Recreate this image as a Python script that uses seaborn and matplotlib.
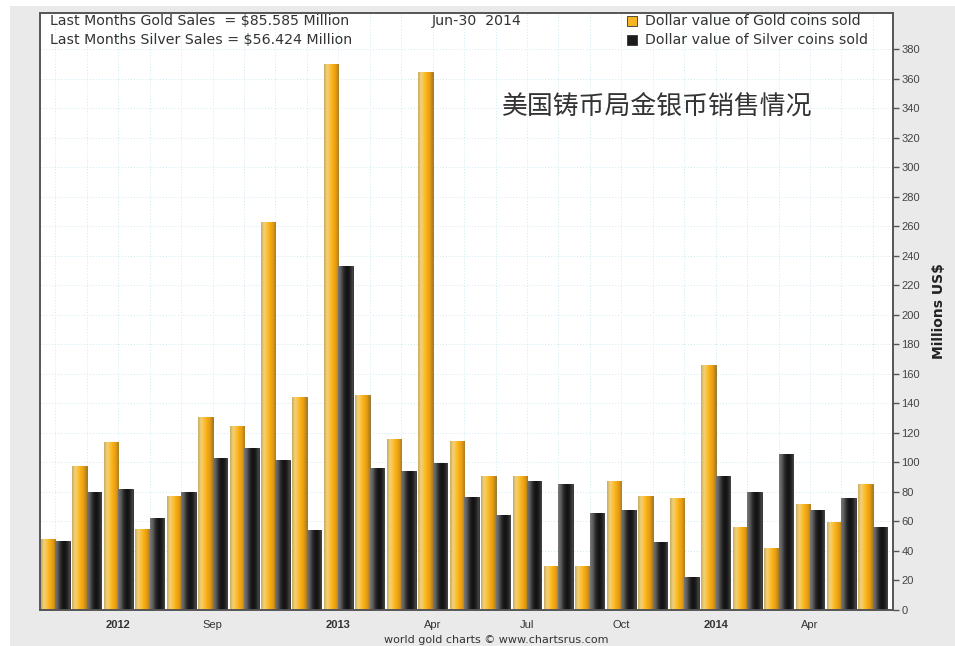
import numpy as np
import pandas as pd
import matplotlib
matplotlib.use("Agg")
import matplotlib.pyplot as plt
from matplotlib.colors import LinearSegmentedColormap, to_hex
from matplotlib.patches import Rectangle
import seaborn as sns

# Monthly US Mint sales (millions of US$), Apr 2012 - Jun 2014
months = pd.date_range("2012-04-01", "2014-06-01", freq="MS").strftime("%Y-%m").tolist()
gold_sales = [48, 97.5, 113.6, 55, 77.5, 130.5, 125, 263, 144.3, 370, 145.7, 116,
              364.3, 114.5, 91, 91, 30, 30, 87.6, 77.5, 75.7, 166, 56.5, 42.2,
              71.8, 59.8, 85.585]
silver_sales = [46.7, 79.7, 81.8, 62.1, 79.7, 102.8, 109.5, 101.6, 54.0, 233.3, 96,
                94.2, 99.4, 76.8, 64.4, 87.4, 85.4, 65.5, 67.8, 45.8, 22.6, 91, 79.7,
                105.5, 67.8, 75.7, 56.424]
series_names = ["Dollar value of Gold coins sold", "Dollar value of Silver coins sold"]
tick_labels = {2: "2012", 5: "Sep", 9: "2013", 12: "Apr", 15: "Jul", 18: "Oct",
               21: "2014", 24: "Apr"}
y_ticks = list(range(0, 381, 20))

df = pd.DataFrame({
    "month": months * 2,
    "value": gold_sales + silver_sales,
    "series": [series_names[0]] * len(months) + [series_names[1]] * len(months),
})

sns.set_style("white")
plt.rcParams["font.family"] = ["Liberation Sans", "DejaVu Sans"]

GOLD = "#f6b322"
SILVER = "#1c1c1c"

fig = plt.figure(figsize=(9.55, 6.46), dpi=100, facecolor="white")
# grey panel behind the chart
fig.patches.append(Rectangle((10 / 955, 0), 1, 640 / 646, transform=fig.transFigure,
                             facecolor="#eaeaea", edgecolor="none", zorder=-10))
ax = fig.add_axes([40 / 955, 36 / 646, 853 / 955, 597 / 646])
ax.set_facecolor("white")

sns.barplot(data=df, x="month", y="value", hue="series", order=months,
            hue_order=series_names, palette=[GOLD, SILVER], width=0.92,
            saturation=1, legend=False, ax=ax, linewidth=0.6, edgecolor="#5a4a2a")

# cylinder-like shading on each bar
gold_cmap = LinearSegmentedColormap.from_list(
    "gold", ["#c9a762", "#f3d27a", "#fbc23a", "#f7ad14", "#e59c12", "#a87a26"])
silver_cmap = LinearSegmentedColormap.from_list(
    "silver", ["#7a7a7a", "#5a5a5a", "#262626", "#111111", "#1e1e1e", "#4a4a4a"])
grad = np.linspace(0, 1, 128).reshape(1, -1)
gold_hex = to_hex(GOLD)
for p in list(ax.patches):
    x0, y0, w, h = p.get_x(), p.get_y(), p.get_width(), p.get_height()
    if h <= 0:
        continue
    is_gold = to_hex(p.get_facecolor()) == gold_hex
    p.set_edgecolor("#8a6a2a" if is_gold else "#2a2a2a")
    im = ax.imshow(grad, extent=[x0, x0 + w, y0, y0 + h], aspect="auto",
                   cmap=gold_cmap if is_gold else silver_cmap,
                   interpolation="bicubic", zorder=p.get_zorder() + 0.1)
    im.set_clip_path(p)

ax.set_xlim(-0.49, 26.64)
ax.set_ylim(0, 404.5)
ax.set_aspect("auto")

# grid
ax.set_axisbelow(True)
for yv in y_ticks:
    ax.axhline(yv, color="#cfe9f2", lw=0.7, ls=(0, (1, 2)), zorder=0)
for xv in range(len(months)):
    ax.axvline(xv, color="#cfe9f2", lw=0.7, ls=(0, (1, 2)), zorder=0)

# axes and ticks
for s in ax.spines.values():
    s.set_color("#555555")
    s.set_linewidth(1.4)
ax.yaxis.tick_right()
ax.yaxis.set_label_position("right")
ax.set_yticks(y_ticks)
ax.set_yticklabels([str(v) for v in y_ticks], fontsize=8, color="#444444")
ax.tick_params(axis="y", direction="out", length=4, width=1, color="#555555", pad=2,
               left=False, right=True)
ax.set_ylabel("Millions US$", fontsize=10, fontweight="bold", color="#222222",
              labelpad=9, family=["DejaVu Sans"])

ax.set_xticks(range(len(months)))
ax.set_xticklabels([tick_labels.get(i, "") for i in range(len(months))],
                   fontsize=8, color="#333333")
for i, lab in zip(range(len(months)), ax.get_xticklabels()):
    if tick_labels.get(i, "").isdigit():
        lab.set_fontweight("bold")
ax.tick_params(axis="x", direction="out", length=4, width=1, color="#555555", pad=3)
ax.set_xlabel("")

# header texts
hdr = dict(fontsize=10.2, color="#333333", va="center", transform=fig.transFigure,
           family=["DejaVu Sans"])
fig.text(50 / 955, 1 - 21 / 646, "Last Months Gold Sales  = $85.585 Million", **hdr)
fig.text(50 / 955, 1 - 40 / 646, "Last Months Silver Sales = $56.424 Million", **hdr)
fig.text(432 / 955, 1 - 21 / 646, "Jun-30  2014", **hdr)

# legend
for k, (name, col) in enumerate(zip(series_names, [GOLD, SILVER])):
    yc = 1 - (21 + 19 * k) / 646
    fig.patches.append(Rectangle((627 / 955, yc - 5 / 646), 10 / 955, 10 / 646,
                                 transform=fig.transFigure, facecolor=col,
                                 edgecolor="#333333", lw=0.6, zorder=5))
    fig.text(645 / 955, yc, name, **hdr)

# chart title
ax.text(0.542, 0.842, "美国铸币局金银币销售情况", transform=ax.transAxes,
        fontsize=18.6, color="#333333", ha="left", va="center",
        family=["Noto Sans CJK SC", "DejaVu Sans"])

# footer
fig.text(496 / 955, 1 - 640 / 646, "world gold charts © www.chartsrus.com",
         fontsize=8, color="#333333", ha="center", va="center", family=["DejaVu Sans"])

fig.savefig("out.png", dpi=100, facecolor=fig.get_facecolor())
